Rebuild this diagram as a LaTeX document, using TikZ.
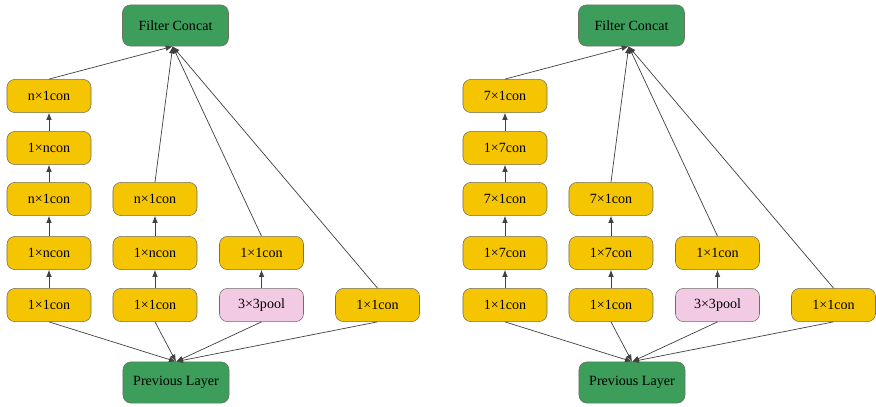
\documentclass[tikz,border=0pt]{standalone}
\usepackage{fontspec}
\setmainfont{Liberation Serif}
\usepackage{tikz}
\usetikzlibrary{arrows.meta}

\definecolor{convyellow}{RGB}{246,197,2}
\definecolor{layergreen}{RGB}{60,158,90}
\definecolor{poolpink}{RGB}{242,202,228}
\definecolor{edgegray}{RGB}{110,110,100}

\tikzset{
  box/.style={draw=edgegray,rounded corners=0.2cm,minimum width=2.1cm,minimum height=0.83cm,inner sep=0pt,font=\fontsize{10}{12}\selectfont,text=black},
  conv/.style={box,fill=convyellow},
  pool/.style={box,fill=poolpink},
  layer/.style={box,fill=layergreen,minimum width=2.65cm,minimum height=1.03cm},
  link/.style={draw=black!75,line width=0.5pt,-{Latex[length=5pt,width=4pt]}}
}

\begin{document}
\begin{tikzpicture}[x=0.025cm,y=-0.025cm]
\useasboundingbox (0,0) rectangle (876,407);
\foreach \s/\dx/\a in {L/0/n, R/456/7} {
  \begin{scope}[xshift=\dx*0.025cm]
    \node[layer] (\s fc) at (175.5,25.5) {Filter Concat};
    \node[layer] (\s prev) at (176,382.5) {Previous Layer};
    % column 1
    \node[conv] (\s a1) at (49,305) {1×1con};
    \node[conv] (\s a2) at (49,253) {1×\a con};
    \node[conv] (\s a3) at (49,199) {\a×1con};
    \node[conv] (\s a4) at (49,148) {1×\a con};
    \node[conv] (\s a5) at (49,96) {\a×1con};
    % column 2
    \node[conv] (\s b1) at (155,305) {1×1con};
    \node[conv] (\s b2) at (155,253) {1×\a con};
    \node[conv] (\s b3) at (155,199) {\a×1con};
    % column 3
    \node[pool] (\s c1) at (261.5,305) {3×3pool};
    \node[conv] (\s c2) at (261.5,253) {1×1con};
    % column 4
    \node[conv] (\s d1) at (377.5,305) {1×1con};
    \foreach \u/\v in {a1/a2,a2/a3,a3/a4,a4/a5,b1/b2,b2/b3,c1/c2}
      \draw[link] (\s\u) -- (\s\v);
    \foreach \u in {a5,b3,c2,d1}
      \draw[link] (\s\u.north) -- ([xshift=-2pt]\s fc.south);
    \foreach \u in {a1,b1,c1,d1}
      \draw[link] (\s\u.south) -- (\s prev.north);
  \end{scope}
}
\end{tikzpicture}
\end{document}
